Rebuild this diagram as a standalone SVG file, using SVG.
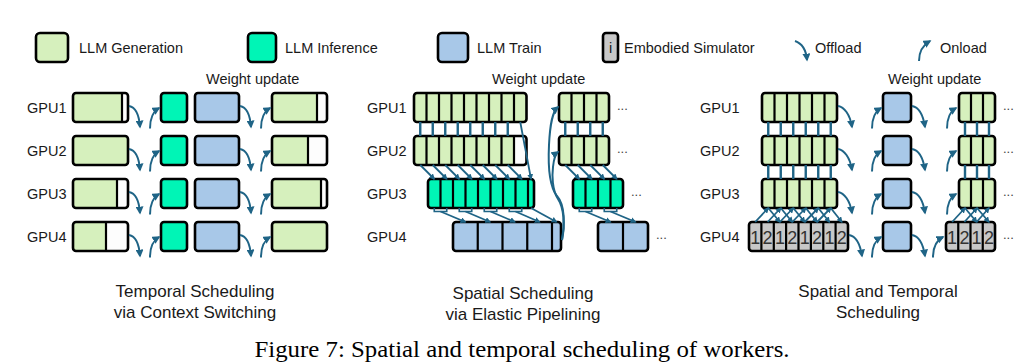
<svg xmlns="http://www.w3.org/2000/svg" width="1035" height="363" viewBox="0 0 1035 363">
<defs>
<style>
text{font-family:"Liberation Sans",Arial,sans-serif;fill:#1a1a1a}
.lb{font-size:14.5px}
.cap{font-size:17px;text-anchor:middle}
.fig{font-family:"Liberation Serif","Times New Roman",serif;font-size:24px;text-anchor:middle;fill:#000}
.dg{font-size:18px;text-anchor:middle;fill:#333}
.dots{font-size:13px;fill:#444}
.G{fill:#d6f0bd}.T{fill:#00f5b6}.B{fill:#a8c8e8}.S{fill:#c8c8c8}.W{fill:#fdfdfd}
.o{fill:none;stroke:#000;stroke-width:2.6}
.d{fill:none;stroke:#000;stroke-width:2.2}
.a{fill:none;stroke:#1f6486;stroke-width:2;marker-end:url(#ah)}
.as{fill:none;stroke:#1f6486;stroke-width:1.8;marker-end:url(#as)}
.v{fill:none;stroke:#1f6486;stroke-width:2.4}
.br{fill:none;stroke:#1f6486;stroke-width:1.6}
</style>
<marker id="ah" viewBox="0 0 10 10" refX="8" refY="5" markerWidth="8" markerHeight="8" markerUnits="userSpaceOnUse" orient="auto"><path d="M0,0 L10,5 L0,10 z" fill="#1f6486"/></marker>
<marker id="as" viewBox="0 0 10 10" refX="8" refY="5" markerWidth="6" markerHeight="6" markerUnits="userSpaceOnUse" orient="auto"><path d="M0,0 L10,5 L0,10 z" fill="#1f6486"/></marker>
</defs>
<rect width="1035" height="363" fill="#fff"/>

<!-- Legend -->
<g id="legend">
<rect class="G" x="36" y="33" width="32" height="29" rx="4"/><rect class="o" x="36" y="33" width="32" height="29" rx="4"/>
<text class="lb" x="79" y="52.5">LLM Generation</text>
<rect class="T" x="248" y="33" width="28" height="29" rx="4"/><rect class="o" x="248" y="33" width="28" height="29" rx="4"/>
<text class="lb" x="285" y="52.5">LLM Inference</text>
<rect class="B" x="438" y="33" width="30" height="29" rx="4"/><rect class="o" x="438" y="33" width="30" height="29" rx="4"/>
<text class="lb" x="477" y="52.5">LLM Train</text>
<rect class="S" x="603" y="33" width="15" height="29" rx="3"/><rect class="o" x="603" y="33" width="15" height="29" rx="3"/>
<text class="lb" x="610.5" y="52.5" text-anchor="middle" fill="#333">i</text>
<text class="lb" x="624" y="52.5">Embodied Simulator</text>
<path class="a" d="M795 41 C801 43 806 49 807 60"/>
<text class="lb" x="815" y="52.5">Offload</text>
<path class="a" d="M919 61 C919 52 923 45 930 41"/>
<text class="lb" x="940" y="52.5">Onload</text>
</g>

<!-- Labels -->
<g id="labels">
<text class="lb" x="206" y="84">Weight update</text>
<text class="lb" x="492" y="84">Weight update</text>
<text class="lb" x="888" y="84">Weight update</text>
<text class="lb" x="27" y="112.5">GPU1</text><text class="lb" x="27" y="155.5">GPU2</text><text class="lb" x="27" y="198.5">GPU3</text><text class="lb" x="27" y="241.5">GPU4</text>
<text class="lb" x="367" y="112.5">GPU1</text><text class="lb" x="367" y="155.5">GPU2</text><text class="lb" x="367" y="198.5">GPU3</text><text class="lb" x="367" y="241.5">GPU4</text>
<text class="lb" x="700" y="112.5">GPU1</text><text class="lb" x="700" y="155.5">GPU2</text><text class="lb" x="700" y="198.5">GPU3</text><text class="lb" x="700" y="241.5">GPU4</text>
<text class="dots" x="617" y="110">...</text><text class="dots" x="617" y="153">...</text><text class="dots" x="631" y="196">...</text><text class="dots" x="656" y="239">...</text>
<text class="dots" x="1003" y="110">...</text><text class="dots" x="1003" y="153">...</text><text class="dots" x="1003" y="196">...</text><text class="dots" x="1003" y="239">...</text>
<text class="cap" x="195" y="297">Temporal Scheduling</text>
<text class="cap" x="195" y="318">via Context Switching</text>
<text class="cap" x="523" y="299">Spatial Scheduling</text>
<text class="cap" x="523" y="320">via Elastic Pipelining</text>
<text class="cap" x="878" y="297">Spatial and Temporal</text>
<text class="cap" x="878" y="318">Scheduling</text>
<text class="fig" x="522" y="357" textLength="535" lengthAdjust="spacingAndGlyphs">Figure 7: Spatial and temporal scheduling of workers.</text>
</g>

<!-- Left panel: temporal scheduling -->
<g id="L-gpu1-gen"><rect class="W" x="73" y="93" width="55" height="29" rx="3"/><rect class="G" x="73" y="93" width="49" height="29"/><path class="d" d="M122 93V122"/><rect class="o" x="73" y="93" width="55" height="29" rx="3"/></g>
<g id="L-gpu2-gen"><rect class="G" x="73" y="136" width="55" height="29" rx="3"/><rect class="o" x="73" y="136" width="55" height="29" rx="3"/></g>
<g id="L-gpu3-gen"><rect class="W" x="73" y="179" width="55" height="29" rx="3"/><rect class="G" x="73" y="179" width="44" height="29"/><path class="d" d="M117 179V208"/><rect class="o" x="73" y="179" width="55" height="29" rx="3"/></g>
<g id="L-gpu4-gen"><rect class="W" x="73" y="222" width="55" height="29" rx="3"/><rect class="G" x="73" y="222" width="33" height="29"/><path class="d" d="M106 222V251"/><rect class="o" x="73" y="222" width="55" height="29" rx="3"/></g>
<g id="L-inf"><rect class="T" x="161" y="93" width="26" height="29" rx="3"/><rect class="o" x="161" y="93" width="26" height="29" rx="3"/><rect class="T" x="161" y="136" width="26" height="29" rx="3"/><rect class="o" x="161" y="136" width="26" height="29" rx="3"/><rect class="T" x="161" y="179" width="26" height="29" rx="3"/><rect class="o" x="161" y="179" width="26" height="29" rx="3"/><rect class="T" x="161" y="222" width="26" height="29" rx="3"/><rect class="o" x="161" y="222" width="26" height="29" rx="3"/></g>
<g id="L-train"><rect class="B" x="195" y="93" width="44" height="29" rx="3"/><rect class="o" x="195" y="93" width="44" height="29" rx="3"/><rect class="B" x="195" y="136" width="44" height="29" rx="3"/><rect class="o" x="195" y="136" width="44" height="29" rx="3"/><rect class="B" x="195" y="179" width="44" height="29" rx="3"/><rect class="o" x="195" y="179" width="44" height="29" rx="3"/><rect class="B" x="195" y="222" width="44" height="29" rx="3"/><rect class="o" x="195" y="222" width="44" height="29" rx="3"/></g>
<g id="L-gpu1-gen2"><rect class="W" x="272" y="93" width="55" height="29" rx="3"/><rect class="G" x="272" y="93" width="45" height="29"/><path class="d" d="M317 93V122"/><rect class="o" x="272" y="93" width="55" height="29" rx="3"/></g>
<g id="L-gpu2-gen2"><rect class="W" x="272" y="136" width="55" height="29" rx="3"/><rect class="G" x="272" y="136" width="36" height="29"/><path class="d" d="M308 136V165"/><rect class="o" x="272" y="136" width="55" height="29" rx="3"/></g>
<g id="L-gpu3-gen2"><rect class="W" x="272" y="179" width="55" height="29" rx="3"/><rect class="G" x="272" y="179" width="49" height="29"/><path class="d" d="M321 179V208"/><rect class="o" x="272" y="179" width="55" height="29" rx="3"/></g>
<g id="L-gpu4-gen2"><rect class="G" x="272" y="222" width="55" height="29" rx="3"/><rect class="o" x="272" y="222" width="55" height="29" rx="3"/></g>

<!-- Middle panel: spatial scheduling -->
<g id="M-gpu1"><rect class="G" x="414" y="93" width="112.5" height="29"/><path class="d" d="M426.5 93V122M439 93V122M451.5 93V122M464 93V122M476.5 93V122M489 93V122M501.5 93V122M514 93V122"/><rect class="o" x="414" y="93" width="112.5" height="29" rx="3"/></g>
<g id="M-gpu2"><rect class="G" x="414" y="136" width="112.5" height="29"/><rect class="W" x="514" y="136" width="12.5" height="29"/><path class="d" d="M426.5 136V165M439 136V165M451.5 136V165M464 136V165M476.5 136V165M489 136V165M501.5 136V165M514 136V165"/><rect class="o" x="414" y="136" width="112.5" height="29" rx="3"/></g>
<g id="M-gpu3"><rect class="T" x="428" y="179" width="106" height="29"/><path class="d" d="M440.5 179V208M453 179V208M465.5 179V208M478 179V208M490.5 179V208M503 179V208M515.5 179V208M528 179V208"/><rect class="o" x="428" y="179" width="106" height="29" rx="3"/></g>
<g id="M-gpu4"><rect class="B" x="453" y="222" width="108" height="29"/><path class="d" d="M477.75 222V251M502.5 222V251M527.25 222V251M552 222V251"/><rect class="o" x="453" y="222" width="108" height="29" rx="3"/></g>
<g id="M2-gpu1"><rect class="G" x="559" y="93" width="50" height="29"/><path class="d" d="M571.5 93V122M584 93V122M596.5 93V122"/><rect class="o" x="559" y="93" width="50" height="29" rx="3"/></g>
<g id="M2-gpu2"><rect class="G" x="559" y="136" width="50" height="29"/><path class="d" d="M571.5 136V165M584 136V165M596.5 136V165"/><rect class="o" x="559" y="136" width="50" height="29" rx="3"/></g>
<g id="M2-gpu3"><rect class="T" x="573" y="179" width="50" height="29"/><path class="d" d="M585.5 179V208M598 179V208M610.5 179V208"/><rect class="o" x="573" y="179" width="50" height="29" rx="3"/></g>
<g id="M2-gpu4"><rect class="B" x="598" y="222" width="50" height="29"/><path class="d" d="M623 222V251"/><rect class="o" x="598" y="222" width="50" height="29" rx="3"/></g>

<!-- Right panel: spatial and temporal -->
<g id="R-gpu1"><rect class="G" x="762" y="93" width="75" height="29"/><path class="d" d="M774.5 93V122M787 93V122M799.5 93V122M812 93V122M824.5 93V122"/><rect class="o" x="762" y="93" width="75" height="29" rx="3"/></g>
<g id="R-gpu2"><rect class="G" x="762" y="136" width="75" height="29"/><path class="d" d="M774.5 136V165M787 136V165M799.5 136V165M812 136V165M824.5 136V165"/><rect class="o" x="762" y="136" width="75" height="29" rx="3"/></g>
<g id="R-gpu3"><rect class="G" x="762" y="179" width="75" height="29"/><path class="d" d="M774.5 179V208M787 179V208M799.5 179V208M812 179V208M824.5 179V208"/><rect class="o" x="762" y="179" width="75" height="29" rx="3"/></g>
<g id="R-gpu4"><rect class="S" x="749" y="222" width="99" height="29"/><path class="d" d="M761.4 222V251M773.8 222V251M786.1 222V251M798.5 222V251M810.9 222V251M823.3 222V251M835.6 222V251"/><rect class="o" x="749" y="222" width="99" height="29" rx="3"/>
<text class="dg" x="755.2" y="243.5">1</text><text class="dg" x="767.6" y="243.5">2</text><text class="dg" x="779.9" y="243.5">1</text><text class="dg" x="792.3" y="243.5">2</text><text class="dg" x="804.7" y="243.5">1</text><text class="dg" x="817.1" y="243.5">2</text><text class="dg" x="829.4" y="243.5">1</text><text class="dg" x="841.8" y="243.5">2</text></g>
<g id="R-train"><rect class="B" x="883" y="93" width="28" height="29" rx="3"/><rect class="o" x="883" y="93" width="28" height="29" rx="3"/><rect class="B" x="883" y="136" width="28" height="29" rx="3"/><rect class="o" x="883" y="136" width="28" height="29" rx="3"/><rect class="B" x="883" y="179" width="28" height="29" rx="3"/><rect class="o" x="883" y="179" width="28" height="29" rx="3"/><rect class="B" x="883" y="222" width="28" height="29" rx="3"/><rect class="o" x="883" y="222" width="28" height="29" rx="3"/></g>
<g id="R2-gpu1"><rect class="G" x="959" y="93" width="36" height="29"/><path class="d" d="M971 93V122M983 93V122"/><rect class="o" x="959" y="93" width="36" height="29" rx="3"/></g>
<g id="R2-gpu2"><rect class="G" x="959" y="136" width="36" height="29"/><path class="d" d="M971 136V165M983 136V165"/><rect class="o" x="959" y="136" width="36" height="29" rx="3"/></g>
<g id="R2-gpu3"><rect class="G" x="959" y="179" width="36" height="29"/><path class="d" d="M971 179V208M983 179V208"/><rect class="o" x="959" y="179" width="36" height="29" rx="3"/></g>
<g id="R2-gpu4"><rect class="S" x="946" y="222" width="49" height="29"/><path class="d" d="M958.25 222V251M970.5 222V251M982.75 222V251"/><rect class="o" x="946" y="222" width="49" height="29" rx="3"/>
<text class="dg" x="952.1" y="243.5">1</text><text class="dg" x="964.4" y="243.5">2</text><text class="dg" x="976.6" y="243.5">1</text><text class="dg" x="988.9" y="243.5">2</text></g>

<!-- Connectors -->
<g id="connectors">
<path class="a" d="M129 106 C135 107 139 114 140 127"/><path class="a" d="M129 149 C135 150 139 157 140 170"/><path class="a" d="M129 192 C135 193 139 200 140 213"/><path class="a" d="M129 235 C135 236 139 243 140 256"/>
<path class="a" d="M150 128.5 C150 119.5 153 111.5 159 108"/><path class="a" d="M150 171.5 C150 162.5 153 154.5 159 151"/><path class="a" d="M150 214.5 C150 205.5 153 197.5 159 194"/><path class="a" d="M150 257.5 C150 248.5 153 240.5 159 237"/>
<path class="a" d="M240 106 C246 107 250 114 251 127"/><path class="a" d="M240 149 C246 150 250 157 251 170"/><path class="a" d="M240 192 C246 193 250 200 251 213"/><path class="a" d="M240 235 C246 236 250 243 251 256"/>
<path class="a" d="M261 128.5 C261 119.5 264 111.5 270 108"/><path class="a" d="M261 171.5 C261 162.5 264 154.5 270 151"/><path class="a" d="M261 214.5 C261 205.5 264 197.5 270 194"/><path class="a" d="M261 257.5 C261 248.5 264 240.5 270 237"/>

<path class="v" d="M420.25 122V136M432.75 122V136M445.25 122V136M457.75 122V136M470.25 122V136M482.75 122V136M495.25 122V136M507.75 122V136"/>
<path class="as" d="M520.25 122 L531 179"/>
<path class="as" d="M420.25 165 L434.25 179"/><path class="as" d="M432.75 165 L446.75 179"/><path class="as" d="M445.25 165 L459.25 179"/><path class="as" d="M457.75 165 L471.75 179"/><path class="as" d="M470.25 165 L484.25 179"/><path class="as" d="M482.75 165 L496.75 179"/><path class="as" d="M495.25 165 L509.25 179"/><path class="as" d="M507.75 165 L521.75 179"/>
<path class="br" d="M434.25 208V211.5H446.75V208M459.25 208V211.5H471.75V208M484.25 208V211.5H496.75V208M509.25 208V211.5H521.75V208"/>
<path class="as" d="M440.5 211.5 L465.4 222"/><path class="as" d="M465.5 211.5 L490.1 222"/><path class="as" d="M490.5 211.5 L514.9 222"/><path class="as" d="M515.5 211.5 L539.6 222"/><path class="as" d="M531 208 L556.5 222"/>
<path class="a" d="M562 240 C565 225 565 205 557 196 C549 186 548 165 549 145 C550 125 552 112 558 107"/>
<path class="a" d="M562 240 C565 225 564 208 558 199 C552 190 552 175 553 167 C554 158 555 154 558 152"/>
<path class="v" d="M565.25 122V136M577.75 122V136M590.25 122V136M602.75 122V136"/>
<path class="as" d="M565.25 165 L579.25 179"/><path class="as" d="M577.75 165 L591.75 179"/><path class="as" d="M590.25 165 L604.25 179"/><path class="as" d="M602.75 165 L616.75 179"/>
<path class="br" d="M579.25 208V211.5H591.75V208M604.25 208V211.5H616.75V208"/>
<path class="as" d="M585.5 211.5 L610.5 222"/><path class="as" d="M610.5 211.5 L635.5 222"/>

<path class="v" d="M768.25 122V136M780.75 122V136M793.25 122V136M805.75 122V136M818.25 122V136M830.75 122V136M768.25 165V179M780.75 165V179M793.25 165V179M805.75 165V179M818.25 165V179M830.75 165V179"/>
<path class="as" d="M755.2 222 L768.25 208"/><path class="as" d="M767.6 222 L780.75 208"/><path class="as" d="M779.9 222 L793.25 208"/><path class="as" d="M792.3 222 L805.75 208"/><path class="as" d="M804.7 222 L818.25 208"/><path class="as" d="M817.1 222 L830.75 208"/>
<path class="as" d="M768.25 208 L779.9 222"/><path class="as" d="M780.75 208 L792.3 222"/><path class="as" d="M793.25 208 L804.7 222"/><path class="as" d="M805.75 208 L817.1 222"/><path class="as" d="M818.25 208 L829.4 222"/><path class="as" d="M830.75 208 L841.8 222"/>
<path class="a" d="M838 106 C844 107 850 114 852 127"/><path class="a" d="M838 149 C844 150 850 157 852 170"/><path class="a" d="M838 192 C844 193 850 200 852 213"/><path class="a" d="M849 235 C855 236 860 243 862 256"/>
<path class="a" d="M872 128.5 C872 119.5 875 111.5 881 108"/><path class="a" d="M872 171.5 C872 162.5 875 154.5 881 151"/><path class="a" d="M872 214.5 C872 205.5 875 197.5 881 194"/><path class="a" d="M872 257.5 C872 248.5 875 240.5 881 237"/>
<path class="a" d="M912 106 C918 107 923 114 925 127"/><path class="a" d="M912 149 C918 150 923 157 925 170"/><path class="a" d="M912 192 C918 193 923 200 925 213"/><path class="a" d="M912 235 C918 236 923 243 925 256"/>
<path class="a" d="M947 128.5 C947 119.5 950 111.5 956 108"/><path class="a" d="M947 171.5 C947 162.5 950 154.5 956 151"/><path class="a" d="M947 214.5 C947 205.5 950 197.5 956 194"/><path class="a" d="M933 257.5 C933 248.5 936 240.5 943 237"/>
<path class="v" d="M965 122V136M977 122V136M989 122V136M965 165V179M977 165V179M989 165V179"/>
<path class="as" d="M952.1 222 L965 208"/><path class="as" d="M964.4 222 L977 208"/><path class="as" d="M976.6 222 L989 208"/>
<path class="as" d="M965 208 L976.6 222"/><path class="as" d="M977 208 L988.9 222"/>
</g>
</svg>
